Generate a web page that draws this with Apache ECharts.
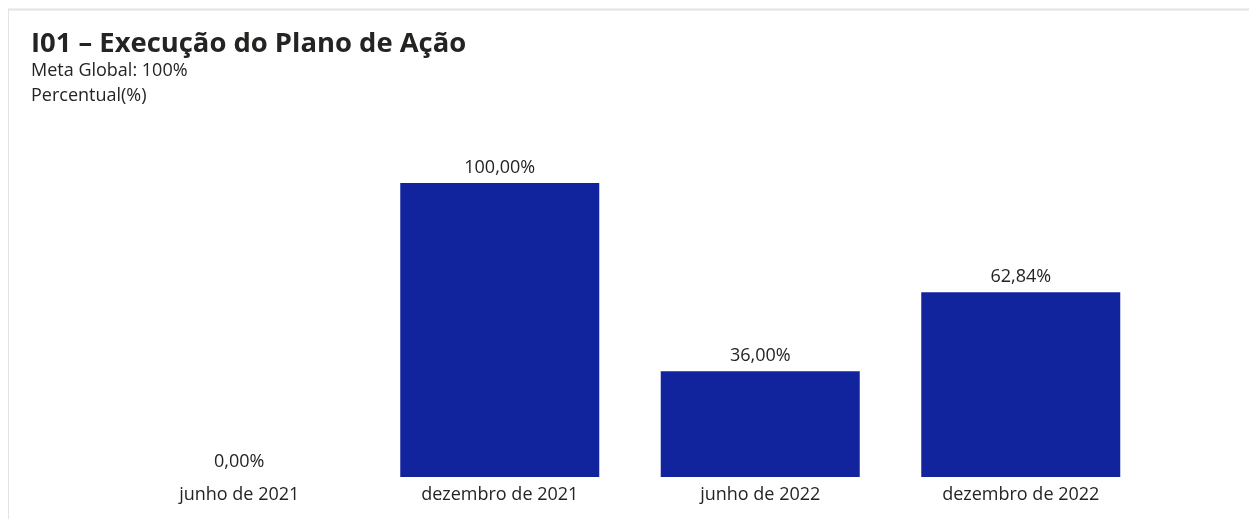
<!DOCTYPE html>
<html>
<head>
<meta charset="utf-8">
<script src="https://cdn.jsdelivr.net/npm/echarts@6/dist/echarts.min.js"></script>
<style>
html,body{margin:0;padding:0;background:#fff;}
#chart{width:1249px;height:519px;}
</style>
</head>
<body>
<div id="chart"></div>
<script>
const categories = ['junho de 2021', 'dezembro de 2021', 'junho de 2022', 'dezembro de 2022'];
const values = [0, 100, 36, 62.84];
const titleText = 'I01 – Execução do Plano de Ação';
const subtitleLines = ['Meta Global: 100%', 'Percentual(%)'];

const chart = echarts.init(document.getElementById('chart'), null, {renderer: 'canvas'});
const fontFam = '"Open Sans", "Noto Sans", sans-serif';
chart.setOption({
  animation: false,
  backgroundColor: '#ffffff',
  title: {
    text: titleText,
    left: 26, top: 26,
    textStyle: {fontFamily: fontFam, fontSize: 27.4, fontWeight: 'bold', color: '#252423'}
  },
  graphic: [
    {type: 'line', shape: {x1: 8, y1: 9.5, x2: 1249, y2: 9.5}, style: {stroke: '#e3e3e3', lineWidth: 2}},
    {type: 'line', shape: {x1: 8.5, y1: 9, x2: 8.5, y2: 519}, style: {stroke: '#e3e3e3', lineWidth: 1}},
    {type: 'text', left: 31, top: 62, style: {text: subtitleLines[0], font: '18px ' + fontFam, fill: '#252423'}},
    {type: 'text', left: 31, top: 87, style: {text: subtitleLines[1], font: '18px ' + fontFam, fill: '#252423'}}
  ],
  grid: {left: 109, right: 98, top: 183, bottom: 42, containLabel: false},
  xAxis: {
    type: 'category',
    data: categories,
    axisLine: {show: false},
    axisTick: {show: false},
    axisLabel: {fontFamily: fontFam, fontSize: 18, color: '#252423', margin: 9}
  },
  yAxis: {
    type: 'value', min: 0, max: 100,
    show: false,
    splitLine: {show: false}
  },
  series: [{
    type: 'bar',
    data: values,
    barWidth: 199,
    itemStyle: {color: '#12239E'},
    label: {
      show: true, position: 'top', distance: 6,
      fontFamily: fontFam, fontSize: 18, color: '#252423',
      formatter: p => p.value.toFixed(2).replace('.', ',') + '%'
    }
  }]
});
</script>
</body>
</html>
